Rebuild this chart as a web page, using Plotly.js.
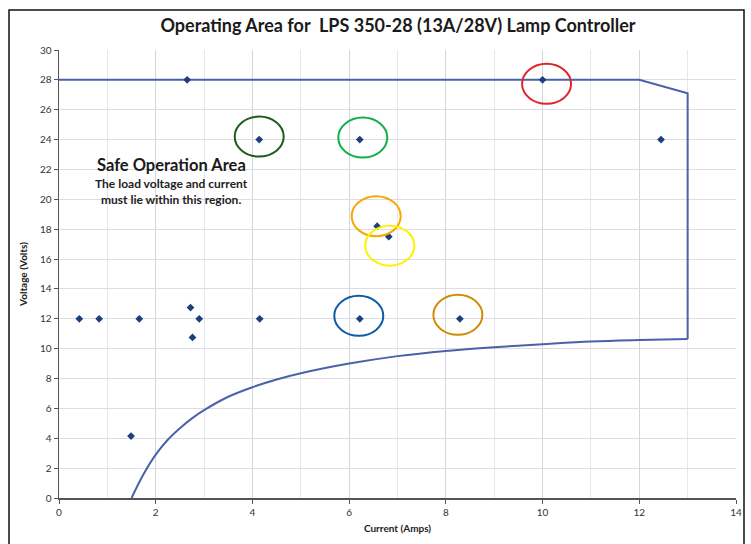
<!DOCTYPE html>
<html>
<head>
<meta charset="utf-8">
<script src="https://cdn.plot.ly/plotly-3.0.1.min.js"></script>
<style>html,body{margin:0;padding:0;background:#fff}#chart{width:751px;height:544px}</style>
</head>
<body>
<div id="chart"></div>
<script>
// ---- data ----
const pointCurrent = [2.65, 10, 4.14, 6.22, 12.45, 6.58, 6.82, 0.42, 0.83, 1.66, 2.72, 2.90, 2.76, 4.15, 6.22, 8.29, 1.49];
const pointVoltage = [28, 28, 24, 24, 24, 18.2, 17.5, 12, 12, 12, 12.75, 12, 10.75, 12, 12, 12, 4.15];

const limitCurrent = [0, 12, 13, 13];
const limitVoltage = [28, 28, 27.1, 10.65];

const curveCurrent = [13, 12, 11, 10, 9, 8, 7, 6, 5, 4.5, 4, 3.5, 3, 2.75, 2.5, 2.25, 2, 1.75, 1.5];
const curveVoltage = [10.65, 10.58, 10.48, 10.3, 10.1, 9.85, 9.5, 9.0, 8.35, 7.93, 7.42, 6.78, 5.88, 5.33, 4.67, 3.9, 2.9, 1.6, 0];

const highlightIndex = [1, 2, 3, 5, 6, 14, 15];
const highlightColor = ['#e3232b', '#1e5b1e', '#10b04a', '#f7a800', '#fff200', '#0d5aa7', '#d08c00'];

const titleText = 'Operating Area for  LPS 350-28 (13A/28V) Lamp Controller';
const xTitle = 'Current (Amps)';
const yTitle = 'Voltage (Volts)';
const xTicks = [0, 2, 4, 6, 8, 10, 12, 14];
const yTicks = [0, 2, 4, 6, 8, 10, 12, 14, 16, 18, 20, 22, 24, 26, 28, 30];

// ---- styles ----
const FONT = 'Lato, "Open Sans", sans-serif';
const lineColor = '#4a62aa';
// pixel offsets of circle centres relative to the point (right, down)
const circleOffset = [[4, 4], [0, -3], [3, -2], [-1, -10], [1, 9], [-1, -3], [-2, -4]];
const circleW = 49, circleH = 40;

const shapes = highlightIndex.map((idx, k) => {
  const dx = circleOffset[k][0], dy = circleOffset[k][1];
  return {
    type: 'circle', xref: 'x', yref: 'y',
    xsizemode: 'pixel', ysizemode: 'pixel',
    xanchor: pointCurrent[idx], yanchor: pointVoltage[idx],
    x0: dx - circleW / 2, x1: dx + circleW / 2,
    y0: -dy - circleH / 2, y1: -dy + circleH / 2,
    line: {color: highlightColor[k], width: 2}
  };
});
shapes.push({
  type: 'rect', xref: 'paper', yref: 'paper', layer: 'above',
  x0: -50 / 677, x1: 685 / 677, y0: -60 / 448, y1: 1 + 40 / 448,
  line: {color: '#111', width: 1.5}
});

const traces = [
  {x: limitCurrent, y: limitVoltage, mode: 'lines', type: 'scatter',
   line: {color: lineColor, width: 2}, hoverinfo: 'skip'},
  {x: curveCurrent, y: curveVoltage, mode: 'lines', type: 'scatter',
   line: {color: lineColor, width: 2, shape: 'spline', smoothing: 1}, hoverinfo: 'skip'},
  {x: pointCurrent, y: pointVoltage, mode: 'markers', type: 'scatter',
   marker: {symbol: 'diamond', size: 6, color: '#1d3f7c'}}
];

const layout = {
  width: 751, height: 544,
  margin: {l: 59, r: 15, t: 50, b: 46},
  paper_bgcolor: '#fff', plot_bgcolor: '#fff',
  showlegend: false,
  font: {family: FONT, color: '#333'},
  title: {text: '<b>' + titleText + '</b>', x: 0.53, xanchor: 'center', y: 0.952, yanchor: 'middle',
          font: {family: FONT, size: 18, color: '#1a1a1a'}},
  xaxis: {
    range: [0, 14], tickvals: xTicks, ticktext: xTicks.map(String),
    showgrid: true, gridcolor: '#d4d4dc', gridwidth: 1,
    minor: {dtick: 1, showgrid: true, gridcolor: '#e6e6ee', gridwidth: 1},
    zeroline: false, showline: true, linecolor: '#555', linewidth: 1.5,
    ticks: 'outside', ticklen: 4, tickcolor: '#555',
    tickfont: {family: FONT, size: 10, color: '#333'},
    title: {text: '<b>' + xTitle + '</b>', font: {family: FONT, size: 10, color: '#222'}, standoff: 8}
  },
  yaxis: {
    range: [0, 30], tickvals: yTicks, ticktext: yTicks.map(String),
    showgrid: true, gridcolor: '#dcdce2', gridwidth: 1,
    zeroline: false, showline: true, linecolor: '#555', linewidth: 1.5,
    ticks: 'outside', ticklen: 4, tickcolor: '#555',
    tickfont: {family: FONT, size: 10, color: '#333'},
    title: {text: '<b>' + yTitle + '</b>', font: {family: FONT, size: 10, color: '#222'}, standoff: 10}
  },
  shapes: shapes,
  annotations: [
    {xref: 'x', yref: 'y', x: 2.32, y: 22.3, showarrow: false,
     text: '<b>Safe Operation Area</b>', font: {family: FONT, size: 16.5, color: '#1a1a1a'}},
    {xref: 'x', yref: 'y', x: 2.32, y: 20.5, showarrow: false,
     text: '<b>The load voltage and current<br>must lie within this region.</b>',
     font: {family: FONT, size: 12, color: '#222'}}
  ]
};

Plotly.newPlot('chart', traces, layout, {displayModeBar: false, staticPlot: true});
</script>
</body>
</html>
